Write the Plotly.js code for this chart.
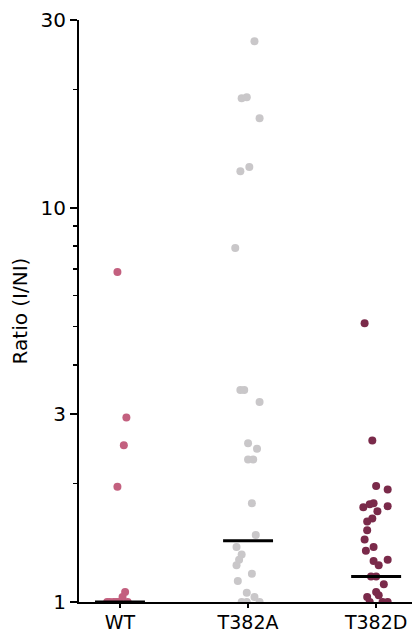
<!DOCTYPE html>
<html>
<head>
<meta charset="utf-8">
<script src="https://cdn.plot.ly/plotly-3.0.1.min.js"></script>
<style>html,body{margin:0;padding:0;background:#fff;}#chart{width:412px;height:635px;}</style>
</head>
<body>
<div id="chart"></div>
<script>
const categories = ['WT', 'T382A', 'T382D'];

const wtValues = [6.88, 2.94, 2.50, 1.96, 1.06, 1.03, 1.0, 1.0, 1.0, 1.0, 1.0, 1.0];
const wtJitter = [-0.02, 0.05, 0.03, -0.02, 0.04, 0.02, -0.10, -0.08, -0.05, -0.03, -0.01, 0.06];

const t382aValues = [26.5, 19.0, 19.1, 16.9, 12.7, 12.4, 7.92, 3.45, 3.45, 3.22, 2.53, 2.45, 2.30, 2.30,
  1.78, 1.48, 1.38, 1.32, 1.28, 1.24, 1.18, 1.13, 1.055, 1.03, 1.0, 1.0, 1.0];
const t382aJitter = [0.05, -0.05, -0.01, 0.09, 0.01, -0.06, -0.10, -0.06, -0.03, 0.09, 0.00, 0.07, 0.00, 0.04,
  0.03, 0.06, -0.09, -0.05, -0.07, -0.09, 0.03, -0.08, -0.01, 0.05, -0.05, -0.01, 0.09];

const t382dValues = [5.10, 2.57, 1.97, 1.93, 1.74, 1.77, 1.78, 1.75, 1.70, 1.63, 1.60, 1.52, 1.44, 1.38,
  1.35, 1.27, 1.24, 1.28, 1.16, 1.16, 1.11, 1.06, 1.04, 1.03, 1.0, 1.0, 1.0];
const t382dJitter = [-0.09, -0.03, 0.00, 0.09, -0.10, -0.05, -0.02, 0.09, 0.01, -0.03, -0.07, -0.07, -0.09, -0.02,
  -0.08, -0.02, 0.02, 0.09, -0.04, 0.00, 0.06, 0.00, 0.02, -0.07, -0.05, 0.05, 0.09];

const medians = [1.0, 1.43, 1.16];
const colors = ['#c3607f', '#c9c7c9', '#7a2a4a'];

const yTickVals = [1, 3, 10, 30];
const yTickText = ['1', '3', '10', '30'];
const yMinorVals = [2, 4, 5, 6, 7, 8, 9, 20];

const groups = [
  {values: wtValues, jitter: wtJitter},
  {values: t382aValues, jitter: t382aJitter},
  {values: t382dValues, jitter: t382dJitter}
];

const traces = [];
groups.forEach((g, i) => {
  traces.push({
    type: 'scatter', mode: 'markers',
    x: g.values.map((v, k) => i + g.jitter[k]),
    y: g.values,
    marker: {size: 8, color: colors[i], line: {width: 0}},
    hoverinfo: 'y', showlegend: false
  });
});
medians.forEach((m, i) => {
  traces.push({
    type: 'scatter', mode: 'lines',
    x: [i - 0.195, i + 0.195], y: [m, m],
    line: {color: '#000', width: 3},
    hoverinfo: 'skip', showlegend: false
  });
});

const font = {family: 'DejaVu Sans, sans-serif', size: 20, color: '#000'};
const xFont = {family: 'DejaVu Sans, sans-serif', size: 19, color: '#000'};

const layout = {
  width: 412, height: 635,
  margin: {l: 79, r: 0, t: 20, b: 33},
  paper_bgcolor: '#fff', plot_bgcolor: '#fff',
  font: font,
  showlegend: false,
  xaxis: {
    type: 'linear', range: [-0.32, 2.28],
    tickvals: [0, 1, 2], ticktext: categories,
    showgrid: false, zeroline: false,
    showline: true, linecolor: '#000', linewidth: 2,
    ticks: 'outside', ticklen: 4, tickwidth: 2, tickcolor: '#000',
    ticklabelstandoff: -2,
    tickfont: xFont, automargin: false
  },
  yaxis: {
    type: 'log', range: [0, Math.log10(30)],
    tickvals: yTickVals, ticktext: yTickText,
    showgrid: false, zeroline: false,
    showline: true, linecolor: '#000', linewidth: 2,
    ticks: 'outside', ticklen: 7, tickwidth: 2, tickcolor: '#000',
    tickfont: font, automargin: false,
    minor: {tickvals: yMinorVals, ticks: 'outside', ticklen: 4, tickwidth: 1.5, tickcolor: '#000', showgrid: false},
    title: {text: 'Ratio (I/NI)', font: font, standoff: 8}
  }
};

Plotly.newPlot('chart', traces, layout, {displayModeBar: false, staticPlot: true});
</script>
</body>
</html>
